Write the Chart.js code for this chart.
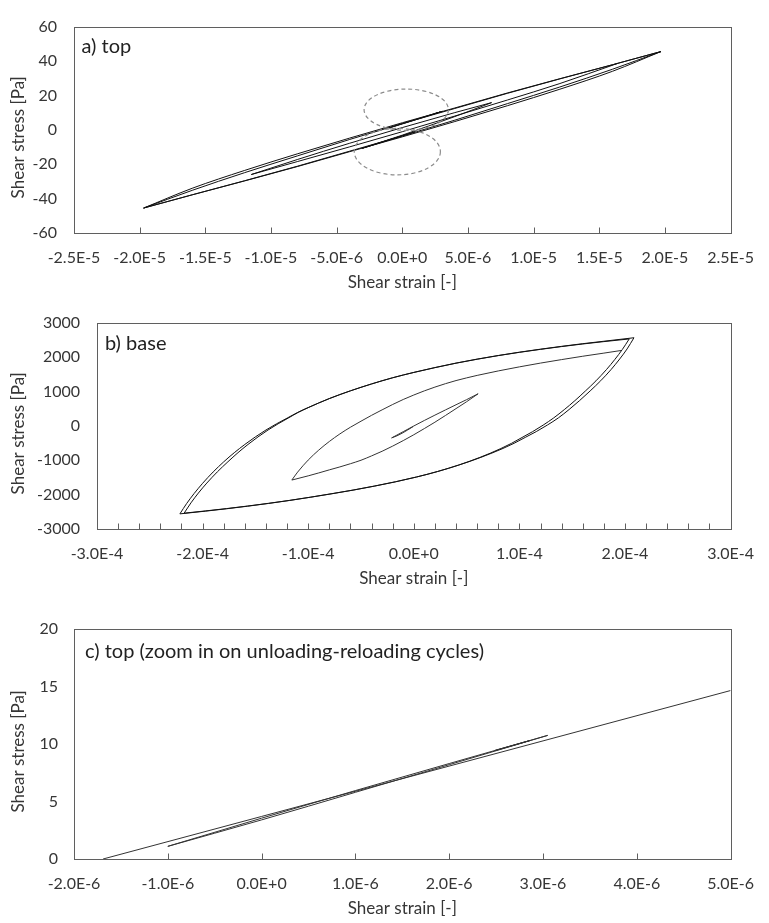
<!DOCTYPE html>
<html>
<head>
<meta charset="utf-8">
<title>Shear stress vs shear strain</title>
<script src="https://cdn.jsdelivr.net/npm/chart.js@4.4.1/dist/chart.umd.min.js"></script>
<style>
  html, body { margin: 0; padding: 0; background: #ffffff; }
  body { width: 769px; height: 923px; position: relative; overflow: hidden; }
  canvas { position: absolute; left: 0; }
  #chartA { top: 0; }
  #chartB { top: 296px; }
  #chartC { top: 596px; }
</style>
</head>
<body>
<canvas id="chartA" width="769" height="296"></canvas>
<canvas id="chartB" width="769" height="300"></canvas>
<canvas id="chartC" width="769" height="327"></canvas>
<script>
// ---------------- a) top : strain in 1e-6, stress in Pa ----------------
const aLoad1Strain   = [-19.7, -16, -12, -8, -4, 0, 4, 8, 12, 16, 19.7];
const aLoad1Stress   = [-45.5, -35.2, -24.9, -15.2, -5.6, 3.6, 12.4, 21.2, 29.6, 37.8, 45.5];
const aUnload1Strain = [19.7, 16, 12, 8, 4, 0, -4, -8, -12, -16, -19.7];
const aUnload1Stress = [45.5, 35.2, 24.9, 15.2, 5.6, -3.6, -12.4, -21.2, -29.6, -37.8, -45.5];
const aLoad2Stress   = [-45.5, -34.0, -23.6, -14.0, -4.8, 4.1, 12.7, 21.4, 29.7, 37.8, 45.5];
const aUnload2Stress = [45.5, 34.0, 23.6, 14.0, 4.8, -4.1, -12.7, -21.4, -29.7, -37.8, -45.5];
const aUnload3Strain = [16.4, 12, 8, 4, 0, -4, -8, -11.5];
const aUnload3Stress = [38.6, 26.9, 17.3, 8.0, -1.1, -9.9, -18.5, -26.0];
const aReload3Strain = [-11.5, -8, -4, 0, 4, 6.8];
const aReload3Stress = [-26.0, -17.3, -7.8, 1.3, 10.0, 15.8];
const aUnload4Strain = [6.8, 4, 0, -3.05];
const aUnload4Stress = [15.8, 7.7, -3.1, -10.75];

// small unloading-reloading cycles (shared by panels a and c)
const upLoadStrain   = [-1.0, 0, 1.0, 2.0, 3.05];
const upLoadStress   = [1.1, 3.55, 5.95, 8.3, 10.75];
const upUnloadStrain = [3.05, 2.0, 1.0, 0, -1.0];
const upUnloadStress = [10.75, 8.2, 5.8, 3.4, 1.1];
const upTinyStrain   = [2.49, 2.86, 2.49];
const upTinyStress   = [9.45, 10.3, 9.42];
const dnLoadStrain   = [-3.05, -2.0, -1.0, 0, 1.0];
const dnLoadStress   = [-10.75, -8.2, -5.8, -3.4, -1.1];
const dnUnloadStrain = [1.0, 0, -1.0, -2.0, -3.05];
const dnUnloadStress = [-1.1, -3.55, -5.95, -8.3, -10.75];

// c) long branch crossing the zoom window
const cLongStrain = [-1.69, 0, 5.0];
const cLongStress = [0, 3.7, 14.65];

// ---------------- b) base : strain in 1e-4, stress in Pa ----------------
const bLoad1Strain = [-2.215, -2.15, -2.08, -2.0, -1.9, -1.8, -1.7, -1.6, -1.5, -1.4, -1.3, -1.2, -1.1, -1.0,
  -0.8, -0.6, -0.4, -0.2, 0, 0.2, 0.4, 0.6, 0.8, 1.0, 1.2, 1.4, 1.6, 1.8, 2.04];
const bLoad1Stress = [-2560, -2255, -1968, -1672, -1342, -1047, -782, -542, -322, -122, 58, 223, 388, 530,
  790, 1015, 1215, 1395, 1550, 1690, 1820, 1935, 2040, 2135, 2222, 2303, 2378, 2447, 2525];
const bLoad2Strain = [-2.175, -2.11, -2.04, -1.96, -1.86, -1.76, -1.665, -1.57, -1.475, -1.38, -1.285, -1.19, -1.095, -1.0,
  -0.8, -0.6, -0.4, -0.2, 0, 0.2, 0.4, 0.6, 0.8, 1.0, 1.2, 1.4, 1.6, 1.8, 2.085];
const bLoad2Stress = [-2540, -2240, -1955, -1665, -1338, -1045, -782, -542, -322, -122, 58, 223, 388, 528,
  793, 1018, 1218, 1398, 1553, 1693, 1823, 1939, 2044, 2140, 2228, 2310, 2387, 2458, 2560];
const bUnload1Strain = [2.04, 1.975, 1.905, 1.825, 1.725, 1.625, 1.525, 1.425, 1.325, 1.225, 1.125, 1.025, 0.925, 0.825,
  0.625, 0.425, 0.225, 0.025, -0.175, -0.375, -0.575, -0.775, -0.975, -1.175, -1.375, -1.575, -1.775, -1.975, -2.215];
const bUnload1Stress = [2525, 2220, 1933, 1637, 1307, 1012, 730, 470, 230, 20, -170, -340, -510, -660,
  -920, -1140, -1330, -1490, -1630, -1755, -1870, -1975, -2075, -2170, -2257, -2338, -2413, -2482, -2560];
const bUnload2Strain = [2.085, 2.02, 1.95, 1.87, 1.77, 1.67, 1.57, 1.47, 1.37, 1.265, 1.16, 1.055, 0.95, 0.845,
  0.635, 0.43, 0.225, 0.025, -0.175, -0.375, -0.575, -0.775, -0.975, -1.175, -1.375, -1.575, -1.775, -1.975, -2.175];
const bUnload2Stress = [2560, 2235, 1943, 1642, 1310, 1013, 733, 472, 232, 22, -168, -338, -508, -658,
  -918, -1138, -1328, -1488, -1628, -1753, -1868, -1973, -2073, -2167, -2253, -2333, -2407, -2475, -2540];
const bReloadMidStrain = [-1.155, -1.1, -1.0, -0.9, -0.8, -0.7, -0.6, -0.5, -0.4, -0.3, -0.2, -0.1, 0,
  0.1, 0.2, 0.3, 0.4, 0.6, 0.8, 1.0, 1.2, 1.4, 1.6, 1.8, 1.965];
const bReloadMidStress = [-1577, -1346, -996, -706, -456, -236, -41, 134, 304, 464, 620, 765, 895,
  1016, 1125, 1225, 1315, 1465, 1595, 1713, 1823, 1925, 2022, 2113, 2190];
const bUnloadMidStrain = [0.609, 0.5, 0.4, 0.3, 0.2, 0.1, 0, -0.1, -0.2, -0.3, -0.4, -0.5, -0.6, -0.7, -0.8, -0.9, -1.0, -1.155];
const bUnloadMidStress = [931, 700, 500, 300, 105, -80, -260, -430, -590, -740, -875, -1001, -1102, -1195, -1281, -1370, -1455, -1577];
const bReloadSmallStrain = [-0.21, -0.1, 0, 0.1, 0.2, 0.3, 0.4, 0.5, 0.609];
const bReloadSmallStress = [-352, -170, -5, 155, 310, 462, 612, 760, 931];
const bUnloadSmallStrain = [-0.006, -0.06, -0.11, -0.16, -0.21];
const bUnloadSmallStress = [-22, -125, -215, -292, -352];

// ---------------- axis ticks ----------------
const aStrainTicks  = [-2.5e-5, -2.0e-5, -1.5e-5, -1.0e-5, -5.0e-6, 0, 5.0e-6, 1.0e-5, 1.5e-5, 2.0e-5, 2.5e-5];
const aStrainLabels = ['-2.5E-5', '-2.0E-5', '-1.5E-5', '-1.0E-5', '-5.0E-6', '0.0E+0', '5.0E-6', '1.0E-5', '1.5E-5', '2.0E-5', '2.5E-5'];
const aStressTicks  = [-60, -40, -20, 0, 20, 40, 60];
const aStressLabels = ['-60', '-40', '-20', '0', '20', '40', '60'];

const bStrainTicks  = [-3.0e-4, -2.0e-4, -1.0e-4, 0, 1.0e-4, 2.0e-4, 3.0e-4];
const bStrainLabels = ['-3.0E-4', '-2.0E-4', '-1.0E-4', '0.0E+0', '1.0E-4', '2.0E-4', '3.0E-4'];
const bStrainMarks  = [-2.8, -2.6, -2.4, -2.2, -2.0, -1.8, -1.6, -1.4, -1.2, -1.0, -0.8, -0.6, -0.4, -0.2, 0,
  0.2, 0.4, 0.6, 0.8, 1.0, 1.2, 1.4, 1.6, 1.8, 2.0, 2.2, 2.4, 2.6, 2.8].map(v => v * 1e-4);
const bStressTicks  = [-3000, -2000, -1000, 0, 1000, 2000, 3000];
const bStressLabels = ['-3000', '-2000', '-1000', '0', '1000', '2000', '3000'];

const cStrainTicks  = [-2.0e-6, -1.0e-6, 0, 1.0e-6, 2.0e-6, 3.0e-6, 4.0e-6, 5.0e-6];
const cStrainLabels = ['-2.0E-6', '-1.0E-6', '0.0E+0', '1.0E-6', '2.0E-6', '3.0E-6', '4.0E-6', '5.0E-6'];
const cStressTicks  = [0, 5, 10, 15, 20];
const cStressLabels = ['0', '5', '10', '15', '20'];

// ---------------- drawing helpers ----------------
const TEXT = '#363636';
const FRAME = '#5f5f5f';
Chart.defaults.font.family = "Lato, 'Open Sans', sans-serif";
Chart.defaults.color = TEXT;

function pts(strain, stress, unit) {
  return strain.map((s, i) => ({ x: s * unit, y: stress[i] }));
}
function branch(data, color) {
  return {
    data,
    showLine: true,
    borderColor: color || '#111111',
    borderWidth: 1,
    pointRadius: 0,
    pointHoverRadius: 0,
    cubicInterpolationMode: 'monotone',
    fill: false
  };
}

// frame, inside tick marks, panel caption, vertical axis title, dashed ellipses
function decor(opts) {
  return {
    id: 'decor',
    afterDraw(chart) {
      const { ctx, chartArea: a, scales: { x, y } } = chart;
      ctx.save();

      (opts.ellipses || []).forEach(e => {
        const cx = x.getPixelForValue(e.x), cy = y.getPixelForValue(e.y);
        const rx = Math.abs(x.getPixelForValue(e.x + e.rx) - cx);
        const ry = Math.abs(y.getPixelForValue(e.y + e.ry) - cy);
        ctx.beginPath();
        ctx.setLineDash([4, 3]);
        ctx.strokeStyle = '#8c8c8c';
        ctx.lineWidth = 1.2;
        ctx.ellipse(cx, cy, rx, ry, 0, 0, Math.PI * 2);
        ctx.stroke();
      });
      ctx.setLineDash([]);

      const L = Math.round(a.left) + 0.5, T = Math.round(a.top) + 0.5;
      const R = Math.round(a.right) + 0.5, B = Math.round(a.bottom) + 0.5;
      ctx.strokeStyle = FRAME;
      ctx.lineWidth = 1;
      ctx.strokeRect(L, T, R - L, B - T);

      ctx.beginPath();
      opts.marks.forEach(v => {
        const px = Math.round(x.getPixelForValue(v)) + 0.5;
        ctx.moveTo(px, B);
        ctx.lineTo(px, B - 6);
      });
      ctx.stroke();

      ctx.fillStyle = '#222222';
      ctx.font = "20px Lato, 'Open Sans', sans-serif";
      ctx.textAlign = 'left';
      ctx.textBaseline = 'middle';
      ctx.fillText(opts.caption, a.left + opts.capDx, a.top + opts.capDy);

      ctx.fillStyle = TEXT;
      ctx.font = "17px Lato, 'Open Sans', sans-serif";
      ctx.textAlign = 'center';
      ctx.translate(18.5, (a.top + a.bottom) / 2 + 7.5);
      ctx.rotate(-Math.PI / 2);
      ctx.fillText('Shear stress [Pa]', 0, 0);
      ctx.restore();
    }
  };
}

function options(o) {
  return {
    responsive: false,
    animation: false,
    events: [],
    layout: { padding: o.padding },
    plugins: { legend: { display: false }, tooltip: { enabled: false } },
    scales: {
      x: {
        type: 'linear',
        min: o.xMin, max: o.xMax,
        grid: { display: false, drawTicks: false },
        border: { display: false },
        afterBuildTicks: s => { s.ticks = o.xTicks.map(v => ({ value: v })); },
        afterFit: s => { s.height = 62; },
        ticks: {
          autoSkip: false, maxRotation: 0, minRotation: 0, padding: 15,
          font: { size: 16 }, color: TEXT,
          callback: (v, i) => o.xLabels[i]
        },
        title: {
          display: true, text: 'Shear strain [-]', color: TEXT,
          font: { size: 17 }, padding: { top: 0, bottom: 2.3 }
        }
      },
      y: {
        type: 'linear',
        min: o.yMin, max: o.yMax,
        grid: { display: false, drawTicks: false },
        border: { display: false },
        afterBuildTicks: s => { s.ticks = o.yTicks.map(v => ({ value: v })); },
        afterFit: s => { s.width = o.yWidth; },
        ticks: {
          autoSkip: false, padding: o.yPad,
          font: { size: 16 }, color: TEXT,
          callback: (v, i) => o.yLabels[i]
        }
      }
    }
  };
}

// ---------------- a) top ----------------
new Chart(document.getElementById('chartA'), {
  type: 'scatter',
  data: {
    datasets: [
      branch(pts(aLoad1Strain, aLoad1Stress, 1e-6)),
      branch(pts(aUnload1Strain, aUnload1Stress, 1e-6)),
      branch(pts(aLoad1Strain, aLoad2Stress, 1e-6)),
      branch(pts(aUnload1Strain, aUnload2Stress, 1e-6)),
      branch(pts(aUnload3Strain, aUnload3Stress, 1e-6)),
      branch(pts(aReload3Strain, aReload3Stress, 1e-6)),
      branch(pts(aUnload4Strain, aUnload4Stress, 1e-6)),
      branch(pts(upLoadStrain, upLoadStress, 1e-6)),
      branch(pts(upUnloadStrain, upUnloadStress, 1e-6)),
      branch(pts(upTinyStrain, upTinyStress, 1e-6)),
      branch(pts(dnLoadStrain, dnLoadStress, 1e-6)),
      branch(pts(dnUnloadStrain, dnUnloadStress, 1e-6))
    ]
  },
  options: options({
    padding: { left: 0, top: 16, right: 34, bottom: 1 },
    xMin: -2.5e-5, xMax: 2.5e-5, xTicks: aStrainTicks, xLabels: aStrainLabels,
    yMin: -60, yMax: 60, yTicks: aStressTicks, yLabels: aStressLabels,
    yWidth: 74, yPad: 17
  }),
  plugins: [decor({
    marks: aStrainTicks, caption: 'a) top', capDx: 7.5, capDy: 20,
    ellipses: [
      { x: 0.3e-6, y: 11.7, rx: 3.21e-6, ry: 12.0 },
      { x: -0.38e-6, y: -12.7, rx: 3.28e-6, ry: 13.5 }
    ]
  })]
});

// ---------------- b) base ----------------
new Chart(document.getElementById('chartB'), {
  type: 'scatter',
  data: {
    datasets: [
      branch(pts(bLoad1Strain, bLoad1Stress, 1e-4)),
      branch(pts(bUnload1Strain, bUnload1Stress, 1e-4)),
      branch(pts(bLoad2Strain, bLoad2Stress, 1e-4)),
      branch(pts(bUnload2Strain, bUnload2Stress, 1e-4)),
      branch(pts(bReloadMidStrain, bReloadMidStress, 1e-4), '#333333'),
      branch(pts(bUnloadMidStrain, bUnloadMidStress, 1e-4), '#333333'),
      branch(pts(bReloadSmallStrain, bReloadSmallStress, 1e-4), '#333333'),
      branch(pts(bUnloadSmallStrain, bUnloadSmallStress, 1e-4), '#333333')
    ]
  },
  options: options({
    padding: { left: 0, top: 15, right: 31, bottom: 5 },
    xMin: -3e-4, xMax: 3e-4, xTicks: bStrainTicks, xLabels: bStrainLabels,
    yMin: -3000, yMax: 3000, yTicks: bStressTicks, yLabels: bStressLabels,
    yWidth: 97, yPad: 17
  }),
  plugins: [decor({ marks: bStrainMarks, caption: 'b) base', capDx: 8, capDy: 21 })]
});

// ---------------- c) top, zoom on unloading-reloading cycles ----------------
new Chart(document.getElementById('chartC'), {
  type: 'scatter',
  data: {
    datasets: [
      branch(pts(cLongStrain, cLongStress, 1e-6), '#333333'),
      branch(pts(upLoadStrain, upLoadStress, 1e-6), '#333333'),
      branch(pts(upUnloadStrain, upUnloadStress, 1e-6), '#333333'),
      branch(pts(upTinyStrain, upTinyStress, 1e-6), '#222222')
    ]
  },
  options: options({
    padding: { left: 0, top: 33, right: 26, bottom: 2 },
    xMin: -2e-6, xMax: 5e-6, xTicks: cStrainTicks, xLabels: cStrainLabels,
    yMin: 0, yMax: 20, yTicks: cStressTicks, yLabels: cStressLabels,
    yWidth: 74, yPad: 16
  }),
  plugins: [decor({ marks: cStrainTicks, caption: 'c) top (zoom in on unloading-reloading cycles)', capDx: 11, capDy: 22.4 })]
});
</script>
</body>
</html>
